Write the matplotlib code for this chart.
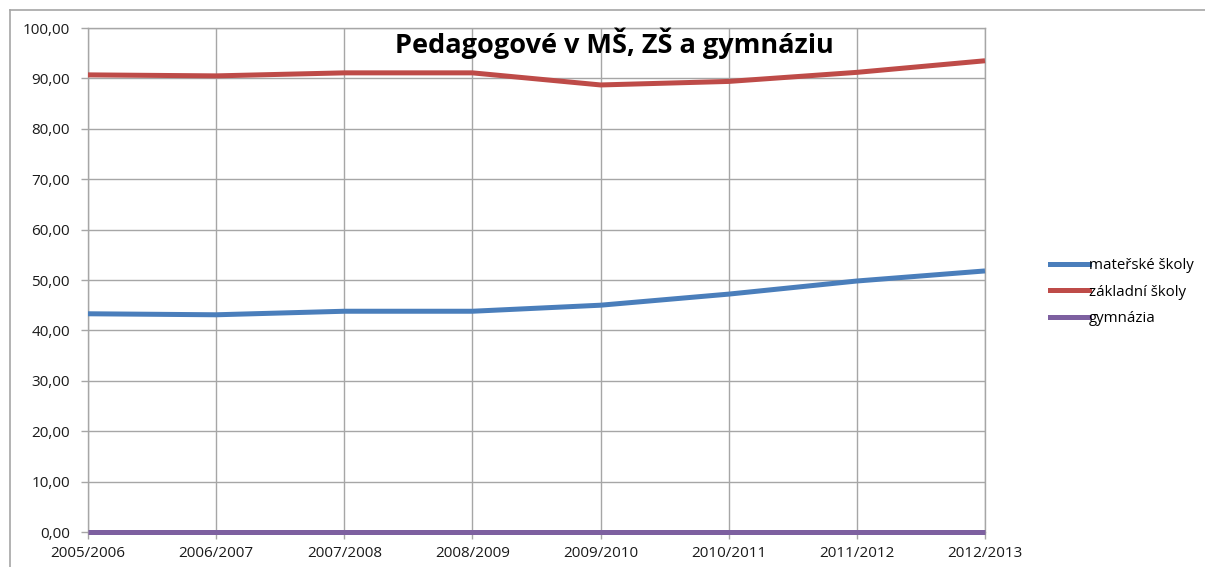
import matplotlib as mpl
mpl.use("Agg")
import matplotlib.pyplot as plt
from matplotlib.lines import Line2D
from matplotlib.ticker import FuncFormatter

years = ["2005/2006", "2006/2007", "2007/2008", "2008/2009",
         "2009/2010", "2010/2011", "2011/2012", "2012/2013"]
materske = [43.3, 43.1, 43.8, 43.8, 45.0, 47.2, 49.8, 51.8]
zakladni = [90.7, 90.5, 91.1, 91.1, 88.7, 89.4, 91.2, 93.5]
gymnazia = [0.0, 0.0, 0.0, 0.0, 0.0, 0.0, 0.0, 0.0]

names = ["mateřské školy", "základní školy", "gymnázia"]
colors = ["#4A7EBB", "#BE4B48", "#7D60A0"]

plt.rcParams["font.family"] = ["Open Sans", "DejaVu Sans"]

W, H = 1205, 567
fig = plt.figure(figsize=(W / 100, H / 100), dpi=100)
ax = fig.add_axes([88 / W, 1 - 532 / H, (985 - 88) / W, (532 - 28) / H])

x = range(len(years))
for vals, name, col in zip([materske, zakladni, gymnazia], names, colors):
    ax.plot(x, vals, color=col, lw=3.6, label=name, solid_capstyle="butt",
            zorder=3, clip_on=False)

ax.set_xlim(0, len(years) - 1)
ax.set_ylim(0, 100)
ax.set_yticks(range(0, 101, 10))
ax.yaxis.set_major_formatter(FuncFormatter(lambda v, p: f"{v:.2f}".replace(".", ",")))
ax.set_xticks(list(x))
ax.set_xticklabels(years)
ax.grid(True, color="#A6A6A6", lw=1.0, zorder=0)
for s in ax.spines.values():
    s.set_color("#A6A6A6")
    s.set_linewidth(1.0)
ax.tick_params(axis="both", colors="#A6A6A6", labelcolor="#1a1a1a", labelsize=11, length=5, width=1.0)
ax.tick_params(axis="y", pad=8)
ax.tick_params(axis="x", pad=5)

fig.text(614 / W, 1 - 43 / H, "Pedagogové v MŠ, ZŠ a gymnáziu",
         ha="center", va="center", fontsize=19.5, fontweight="bold", color="black")

handles = [Line2D([], [], color=c, lw=3.6) for c in colors]
fig.legend(handles, names, loc="center left", bbox_to_anchor=(1050 / W, 1 - 292 / H),
           frameon=False, fontsize=10.8, handlelength=2.6, handletextpad=0.0,
           labelspacing=0.75, borderaxespad=0, borderpad=0)

# outer chart border
fig.add_artist(Line2D([10 / W, 1], [1 - 10 / H, 1 - 10 / H], color="#A6A6A6", lw=1.2))
fig.add_artist(Line2D([10 / W, 10 / W], [0, 1 - 10 / H], color="#A6A6A6", lw=1.2))

fig.savefig("out.png", dpi=100)
